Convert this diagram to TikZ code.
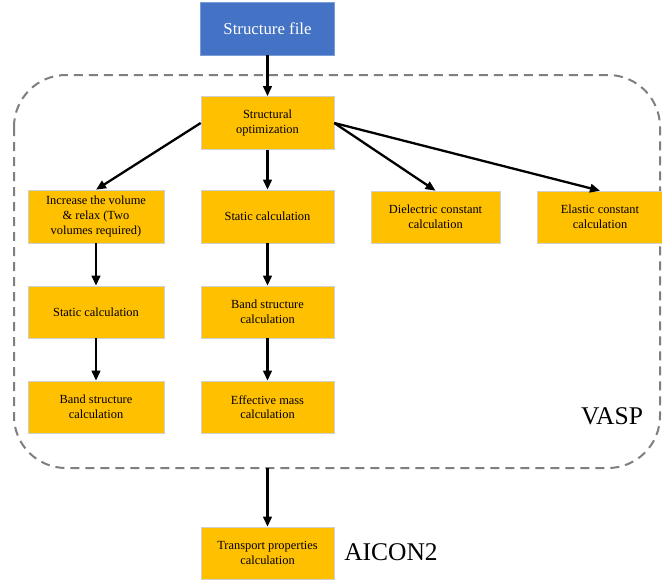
\documentclass[tikz,border=0pt]{standalone}
\usepackage{fontspec}
\setmainfont{Liberation Serif}
\usetikzlibrary{arrows.meta}
\definecolor{boxyellow}{HTML}{FFC000}
\definecolor{boxblue}{HTML}{4472C4}
\definecolor{dashgray}{HTML}{7F7F7F}
\definecolor{edgegray}{HTML}{D0D0D0}
\tikzset{
  stepbox/.style={draw=edgegray, line width=0.6pt, fill=boxyellow, align=center,
    inner sep=2pt, font=\fontsize{12.4}{14.6}\selectfont, text=black},
  topbox/.style={draw=boxblue!70!white, line width=0.6pt, fill=boxblue, align=center,
    text=white, font=\fontsize{16.8}{19}\selectfont},
  arr/.style={line width=2.3pt, -{Triangle[length=10pt,width=8.5pt]}},
  group/.style={draw=dashgray, line width=2pt, dash pattern=on 9pt off 6pt, rounded corners=52pt},
  lbl/.style={font=\fontsize{25.5}{28}\selectfont, text=black}
}
\begin{document}
\begin{tikzpicture}[x=1pt,y=-1pt]
\useasboundingbox (0,0) rectangle (662,581);
\fill[white] (0,0) rectangle (662,581);
\draw[group] (14,75) rectangle (660,468);
\node[topbox, minimum width=134pt, minimum height=53pt] (sf) at (267.5,28.5) {Structure file};
\node[stepbox, minimum width=133pt, minimum height=53pt] (so) at (267.5,123) {Structural\\optimization};
\node[stepbox, minimum width=136pt, minimum height=53pt] (inc) at (96,216.5) {Increase the volume\\\& relax (Two\\volumes required)};
\node[stepbox, minimum width=133pt, minimum height=53pt] (st1) at (267.5,216.5) {Static calculation};
\node[stepbox, minimum width=129pt, minimum height=52pt] (die) at (435.5,217) {Dielectric constant\\calculation};
\node[stepbox, minimum width=126pt, minimum height=52pt] (ela) at (600,217) {Elastic constant\\calculation};
\node[stepbox, minimum width=136pt, minimum height=52pt] (st2) at (96,312) {Static calculation};
\node[stepbox, minimum width=133pt, minimum height=52pt] (bs1) at (267.5,312) {Band structure\\calculation};
\node[stepbox, minimum width=136pt, minimum height=52pt] (bs2) at (96,407) {Band structure\\calculation};
\node[stepbox, minimum width=133pt, minimum height=52pt] (em) at (267.5,407) {Effective mass\\calculation};
\node[stepbox, minimum width=133pt, minimum height=52pt] (tr) at (267.5,553) {Transport properties\\calculation};
\node[lbl] (vasp) at (612,416) {VASP};
\node[lbl] (aicon) at (391,552) {AICON2};
\coordinate (gb) at (267.5,468);
\draw[arr] (sf) -- (so);
\draw[arr] (so.west) -- (inc.north);
\draw[arr] (so) -- (st1);
\draw[arr] (so.east) -- (die.north);
\draw[arr] (so.east) -- (ela.north);
\draw[arr] (inc) -- (st2);
\draw[arr] (st2) -- (bs2);
\draw[arr] (st1) -- (bs1);
\draw[arr] (bs1) -- (em);
\draw[arr] (gb) -- (tr);
\end{tikzpicture}
\end{document}
